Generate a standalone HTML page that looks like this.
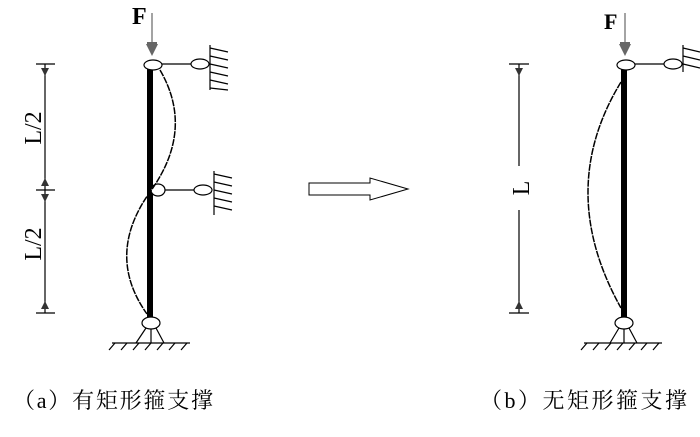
<!DOCTYPE html>
<html><head><meta charset="utf-8"><style>
body{margin:0;background:#fff;width:700px;height:432px;overflow:hidden}
</style></head><body>
<svg width="700" height="432" viewBox="0 0 700 432" xmlns="http://www.w3.org/2000/svg" font-family="Liberation Serif, Noto Serif CJK SC, serif">
<g stroke="#000" fill="none" stroke-width="1.2">
<rect x="147" y="66" width="6" height="252" fill="#000" stroke="none"/>
<ellipse cx="153" cy="65" rx="9" ry="5" fill="#fff"/>
<line x1="162" y1="64" x2="192" y2="64"/>
<ellipse cx="200" cy="64" rx="9" ry="5" fill="#fff"/>
<line x1="210" y1="45" x2="210" y2="90"/>
<path d="M210 48l18 4M210 56l18 4M210 64l18 4M210 72l18 4M210 80l18 4M210 88l18 2"/>
<ellipse cx="158" cy="190" rx="7" ry="6" fill="#fff"/>
<line x1="165" y1="190" x2="195" y2="190"/>
<ellipse cx="203" cy="190" rx="9" ry="5" fill="#fff"/>
<line x1="214" y1="171" x2="214" y2="215"/>
<path d="M214 174l18 4M214 182l18 4M214 190l18 4M214 198l18 4M214 206l18 4"/>
<path d="M160 70 Q195 130 150 192 Q105 255 147 314" stroke-dasharray="7 1" stroke-width="1.5"/>
<ellipse cx="151" cy="323" rx="9" ry="6" fill="#fff"/>
<path d="M146 328 L136 343 M151 329 L151 343 M156 328 L164 343"/>
<line x1="112" y1="343" x2="190" y2="343"/>
<path d="M115 343l-6 7M127 343l-6 7M139 343l-6 7M151 343l-6 7M163 343l-6 7M175 343l-6 7M187 343l-6 7"/>
<line x1="152" y1="13" x2="152" y2="45" stroke="#666"/>
<line x1="45" y1="64" x2="45" y2="313"/>
<line x1="36" y1="64" x2="55" y2="64"/><line x1="36" y1="190" x2="55" y2="190"/><line x1="36" y1="313" x2="55" y2="313"/>
<rect x="621" y="66" width="6" height="252" fill="#000" stroke="none"/>
<ellipse cx="626" cy="65" rx="9" ry="5" fill="#fff"/>
<line x1="635" y1="64" x2="665" y2="64"/>
<ellipse cx="673" cy="64" rx="9" ry="5" fill="#fff"/>
<line x1="683" y1="45" x2="683" y2="72"/>
<path d="M683 48l17 4M683 56l17 4M683 64l17 4"/>
<path d="M621 82 Q555 190 621 308" stroke-dasharray="7 1" stroke-width="1.5"/>
<ellipse cx="624" cy="323" rx="9" ry="6" fill="#fff"/>
<path d="M619 328 L610 343 M624 329 L624 343 M629 328 L637 343"/>
<line x1="584" y1="343" x2="662" y2="343"/>
<path d="M587 343l-6 7M599 343l-6 7M611 343l-6 7M623 343l-6 7M635 343l-6 7M647 343l-6 7M659 343l-6 7"/>
<line x1="625" y1="13" x2="625" y2="45" stroke="#666"/>
<line x1="519" y1="64" x2="519" y2="166"/><line x1="519" y1="210" x2="519" y2="313"/>
<line x1="509" y1="64" x2="529" y2="64"/><line x1="509" y1="313" x2="529" y2="313"/>
<path d="M309 183 H370 V178 L408 189 L370 200 V195 H309 Z" fill="#fff" stroke-width="1"/>
</g>
<g fill="#666">
<path d="M146 44h12l-6 12z"/><rect x="147" y="42" width="10" height="4"/>
<path d="M619 44h12l-6 12z"/><rect x="620" y="42" width="10" height="4"/>
</g>
<g fill="#333">
<path d="M41 68h8l-4 8z"/><path d="M41 186h8l-4-8z"/><path d="M41 194h8l-4 8z"/><path d="M41 309h8l-4-8z"/>
<path d="M515 68h8l-4 8z"/><path d="M515 309h8l-4-8z"/>
</g>
<g font-size="24" fill="#000">
<text x="132" y="24" font-weight="bold">F</text>
<text x="604" y="29" font-weight="bold" font-size="22">F</text>
<text transform="translate(41 128) rotate(-90)" text-anchor="middle">L/2</text>
<text transform="translate(41 244) rotate(-90)" text-anchor="middle">L/2</text>
<text transform="translate(529 188) rotate(-90)" text-anchor="middle">L</text>
</g>
<g font-size="22" fill="#000">
<text x="13" y="408" textLength="200" lengthAdjust="spacing">（a）有矩形箍支撑</text>
<text x="480" y="408" textLength="207" lengthAdjust="spacing">（b）无矩形箍支撑</text>
</g>
</svg>
</body></html>
